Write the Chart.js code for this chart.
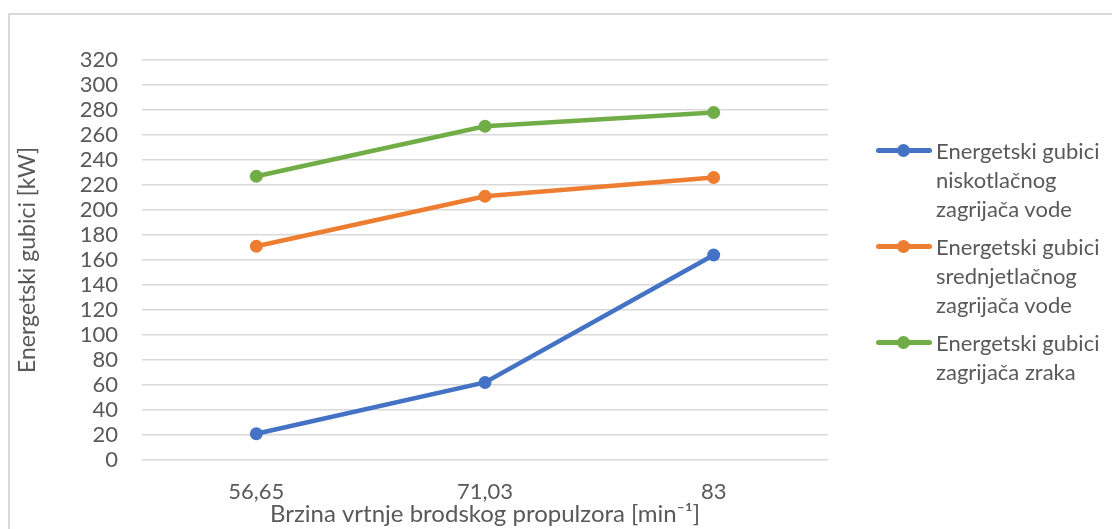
<!DOCTYPE html>
<html>
<head>
<meta charset="utf-8">
<script src="https://cdn.jsdelivr.net/npm/chart.js@4/dist/chart.umd.min.js"></script>
<style>
    body { margin: 0; background: #fff; font-family: Lato, "DejaVu Sans", sans-serif; }
    #wrap { position: relative; width: 1112px; height: 529px; overflow: hidden; }
    #frame { position: absolute; left: 8px; top: 13px; width: 1200px; height: 600px;
             border-left: 2px solid #d9d9d9; border-top: 2px solid #d9d9d9; pointer-events: none; }
    #legend { position: absolute; left: 876px; top: 136px; }
    .item { display: flex; align-items: flex-start; margin-bottom: 9px; }
    .sample { position: relative; width: 56px; height: 28px; flex: none; margin-right: 4px; }
    .sample .ln { position: absolute; left: 0; right: 0; top: 12px; height: 5px; border-radius: 3px; }
    .sample .dot { position: absolute; left: 21px; top: 8px; width: 13px; height: 13px; border-radius: 50%; }
    .txt { width: 180px; font-size: 22px; line-height: 29px; color: #595959; }
</style>
</head>
<body>
<div id="wrap">
    <canvas id="lineChart" width="1112" height="529"></canvas>
    <div id="frame"></div>
    <div id="legend"></div>
</div>
<script>
// **Chart data**
const categories = ["56,65", "71,03", "83"];
const niskotlacni = [21, 62, 164];
const srednjetlacni = [171, 211, 226];
const zrak = [227, 267, 278];

const seriesNames = [
    "Energetski gubici niskotlačnog zagrijača vode",
    "Energetski gubici srednjetlačnog zagrijača vode",
    "Energetski gubici zagrijača zraka"
];
const seriesColors = ["#4472C4", "#ED7D31", "#70AD47"];
const seriesData = [niskotlacni, srednjetlacni, zrak];

const FONT = "Lato, 'DejaVu Sans', sans-serif";

function makeDataset(i) {
    return {
        label: seriesNames[i],
        data: seriesData[i],
        borderColor: seriesColors[i],
        backgroundColor: seriesColors[i],
        borderWidth: 4.5,
        pointRadius: 6.5,
        pointHoverRadius: 6.5,
        pointBorderWidth: 0,
        tension: 0
    };
}

let ctx = document.getElementById("lineChart").getContext("2d");
window.lineChartInstance = new Chart(ctx, {
    type: "line",
    data: {
        labels: categories,
        datasets: [0, 1, 2].map(makeDataset)
    },
    options: {
        responsive: false,
        animation: false,
        layout: { padding: { left: 10, top: 60, right: 284, bottom: 0 } },
        plugins: {
            legend: { display: false },
            tooltip: { enabled: false }
        },
        scales: {
            x: {
                offset: true,
                grid: { display: false, drawTicks: false },
                border: { display: false },
                ticks: { color: "#595959", font: { family: FONT, size: 22 }, padding: 19 },
                title: {
                    display: true,
                    text: "Brzina vrtnje brodskog propulzora [min\u207B\u00B9]",
                    color: "#595959",
                    font: { family: FONT, size: 24 },
                    padding: { top: 0, bottom: 0 }
                },
                afterFit: (scale) => { scale.height = 69; }
            },
            y: {
                min: 0,
                max: 320,
                ticks: { stepSize: 20, autoSkip: false, color: "#595959", font: { family: FONT, size: 22 }, padding: 24 },
                grid: { color: "#d9d9d9", lineWidth: 1.5, drawTicks: false },
                border: { display: false },
                title: {
                    display: true,
                    text: "Energetski gubici [kW]",
                    color: "#595959",
                    font: { family: FONT, size: 23 },
                    padding: { top: 4, bottom: 0 }
                },
                afterFit: (scale) => { scale.width = 132; }
            }
        }
    }
});

// **HTML legend built from the datasets**
function buildLegend(chart) {
    let box = document.getElementById("legend");
    box.innerHTML = "";
    chart.data.datasets.forEach((ds) => {
        let item = document.createElement("div");
        item.className = "item";
        item.innerHTML =
            '<div class="sample"><div class="ln" style="background:' + ds.borderColor + '"></div>' +
            '<div class="dot" style="background:' + ds.borderColor + '"></div></div>' +
            '<div class="txt">' + ds.label + '</div>';
        box.appendChild(item);
    });
}
buildLegend(window.lineChartInstance);
</script>
</body>
</html>
